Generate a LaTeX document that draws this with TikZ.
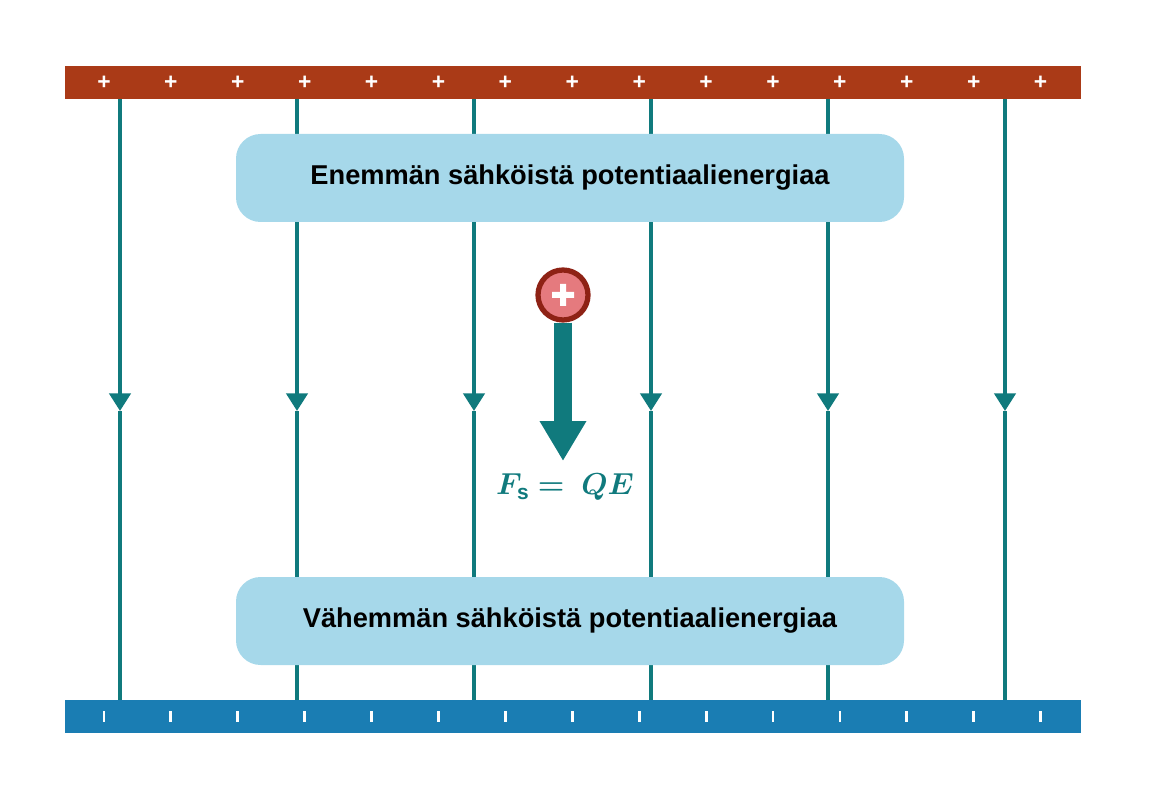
\documentclass[tikz,border=0pt]{standalone}
\usepackage{amsmath}
\usepackage{bm}
\usepackage{fontspec}
\setmainfont{Liberation Sans}
\usetikzlibrary{arrows.meta}
\definecolor{plus}{HTML}{AA3A17}
\definecolor{minus}{HTML}{1A7DB3}
\definecolor{field}{HTML}{107A7D}
\definecolor{box}{HTML}{A6D8EA}
\definecolor{charge}{HTML}{E57A7E}
\definecolor{chargerim}{HTML}{8E2215}
\tikzset{
	line/.style={field, line width=2.2pt, -{Triangle[width=12pt,length=10pt]}},
	level/.style={fill=box, rounded corners=14pt, minimum width=668*0.02cm, minimum height=88*0.02cm, font=\bfseries\fontsize{15.5}{18}\selectfont},
	sign/.style={white, font=\bfseries\fontsize{13}{14}\selectfont}
}
\begin{document}
\begin{tikzpicture}[x=0.02cm, y=-0.02cm]
	\useasboundingbox (0,0) rectangle (1152,800);
	\fill[plus] (65,66) rectangle (1081,99);
	\fill[minus] (65,700) rectangle (1081,733);
	\foreach \i in {0,...,14}{
		\node[sign] (p\i) at (104+66.9*\i,83){+};
		\draw[white, line width=1.6pt] (104+66.9*\i,711) -- (104+66.9*\i,722);
	}
	\foreach \x in {120,297,474,651,828,1005}{
		\coordinate (t\x) at (\x,99);
		\coordinate (m\x) at (\x,411);
		\coordinate (b\x) at (\x,700);
		\draw[line] (t\x) -- (m\x);
		\draw[field, line width=2.2pt] (m\x) -- (b\x);
	}
	\node[level] (high) at (570,178){Enemmän sähköistä potentiaalienergiaa};
	\node[level] (low) at (570,621){Vähemmän sähköistä potentiaalienergiaa};
	\node[circle, fill=charge, draw=chargerim, line width=3pt, minimum size=50*0.02cm, inner sep=0pt] (Q) at (563,295){};
	\fill[white] (552,292) rectangle (574,298) (560,284) rectangle (566,306);
	\coordinate (tip) at (563,461);
	\draw[field, line width=18*0.02cm, -{Triangle[width=44*0.02cm,length=40*0.02cm]}] (Q.south) -- (tip);
	\node[field, font=\fontsize{17}{20}\selectfont] (force) at (565,487){$\bm{F_{\mathrm{s}}} \boldsymbol{=}\ \bm{QE}$};
\end{tikzpicture}
\end{document}
